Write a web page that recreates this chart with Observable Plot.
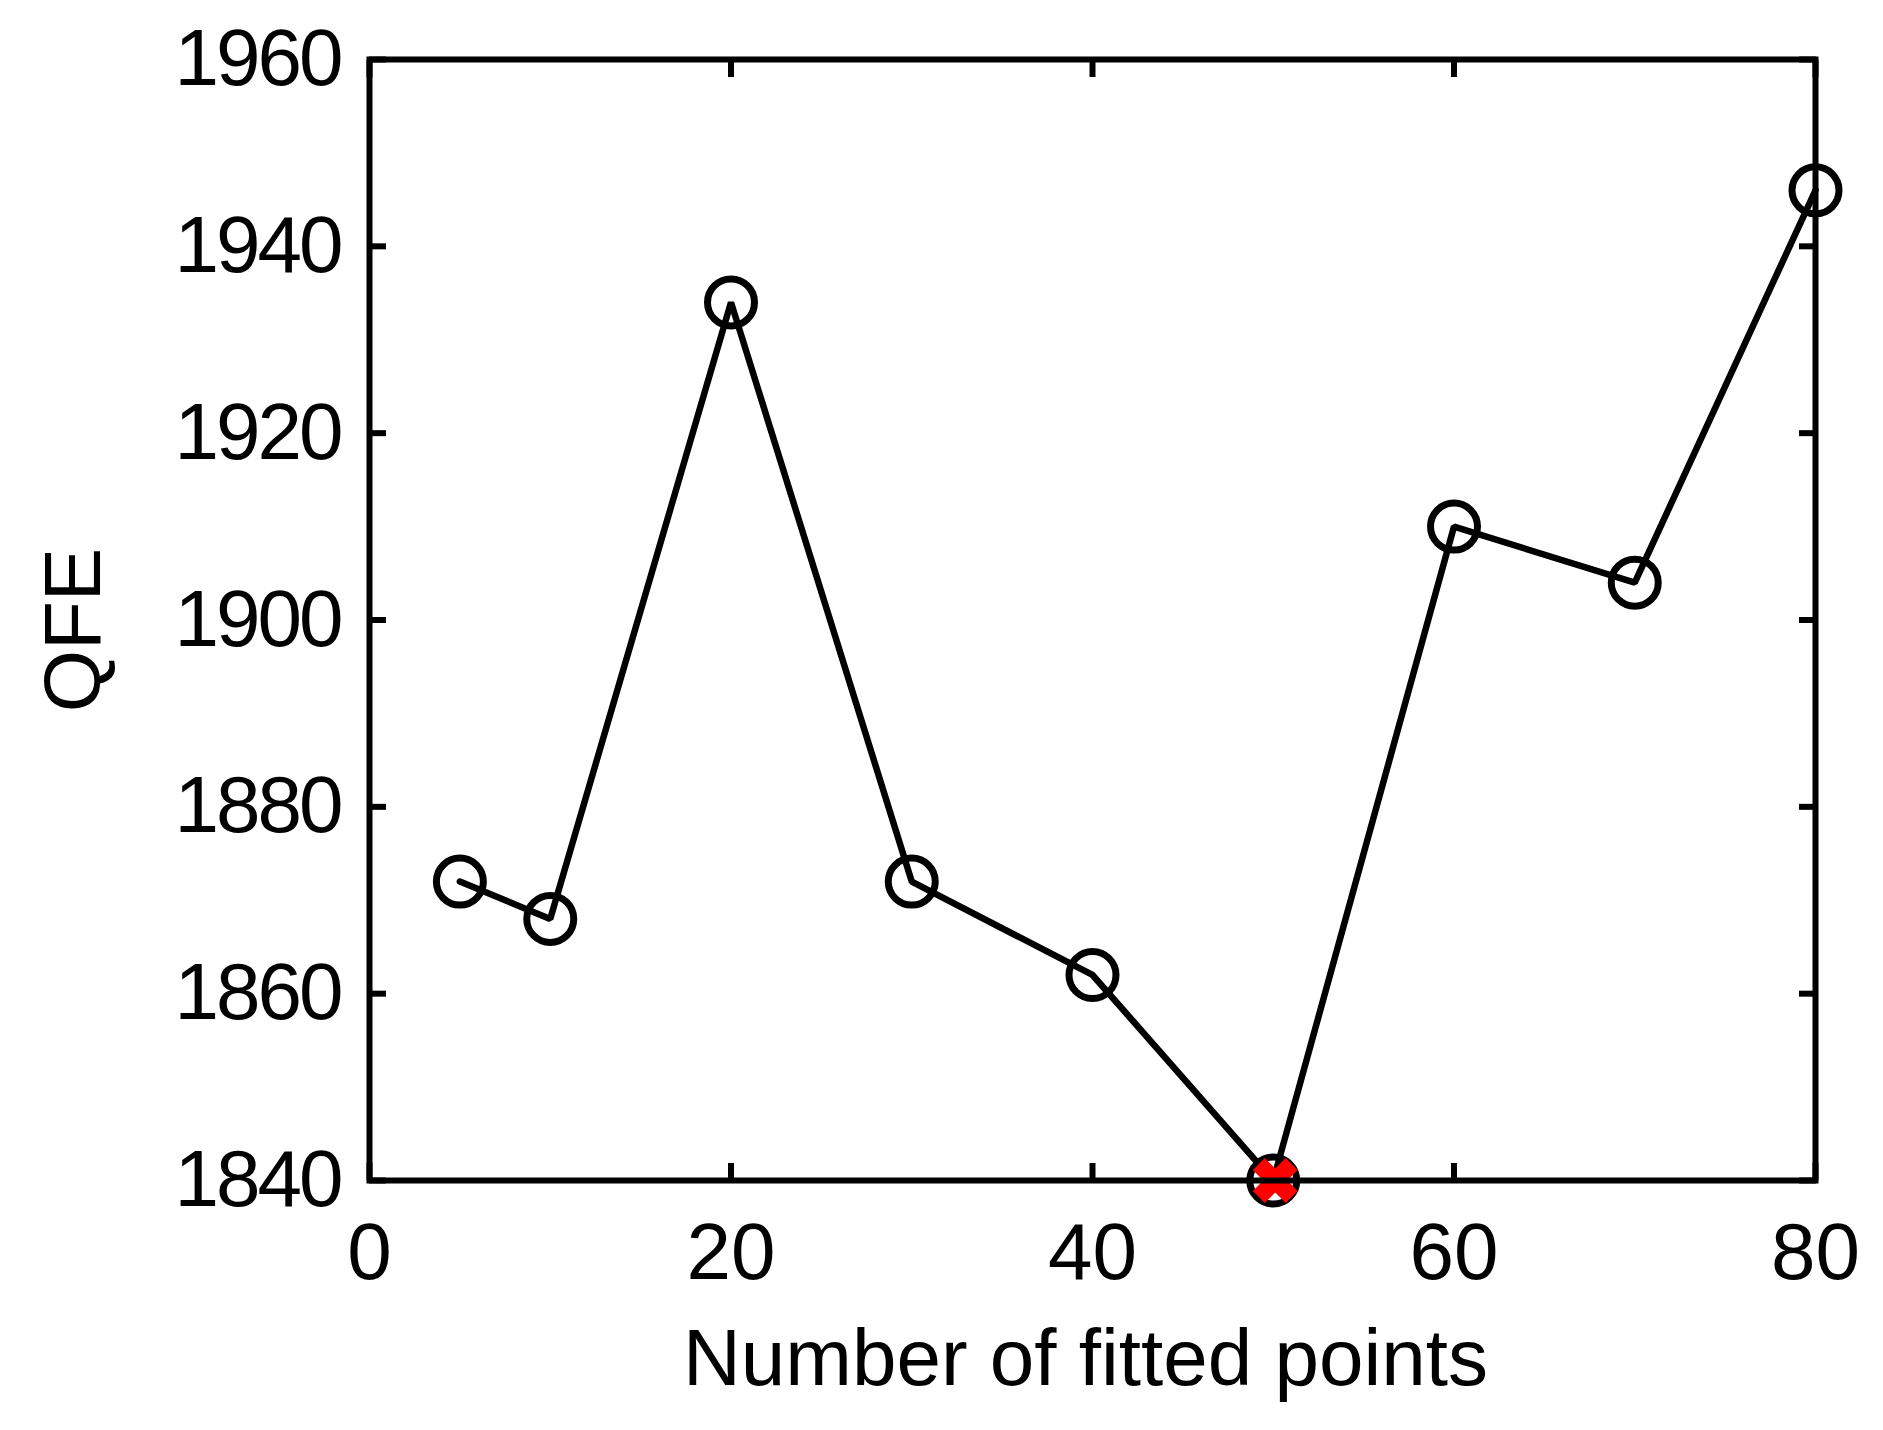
<!DOCTYPE html>
<html>
<head>
<meta charset="utf-8">
<script src="https://cdn.jsdelivr.net/npm/d3@7"></script>
<script src="https://cdn.jsdelivr.net/npm/@observablehq/plot@0.6"></script>
<style>
  html, body { margin: 0; padding: 0; background: #fff; }
  #chart { width: 1883px; height: 1430px; }
</style>
</head>
<body>
<div id="chart"></div>
<script>
const fittedPoints = [5, 10, 20, 30, 40, 50, 60, 70, 80];
const qfe = [1872, 1868, 1934, 1872, 1862, 1840, 1910, 1904, 1946];
const bestIndex = 5;
const xTicks = [0, 20, 40, 60, 80];
const yTicks = [1840, 1860, 1880, 1900, 1920, 1940, 1960];
const xLabel = "Number of fitted points";
const yLabel = "QFE";

const data = fittedPoints.map((x, i) => ({x, y: qfe[i]}));
const best = [data[bestIndex]];

const font = "Liberation Sans, Arial, Helvetica, sans-serif";
const fs = 80;

const chart = Plot.plot({
  width: 1883,
  height: 1430,
  marginLeft: 369,
  marginRight: 68,
  marginTop: 59,
  marginBottom: 250,
  style: {fontFamily: font, background: "#fff", color: "#000"},
  x: {domain: [0, 80]},
  y: {domain: [1840, 1960]},
  marks: [
    Plot.line(data, {x: "x", y: "y", stroke: "#000", strokeWidth: 6.5, strokeLinecap: "round", strokeLinejoin: "miter"}),
    Plot.dot(data, {x: "x", y: "y", r: 23.5, stroke: "#000", strokeWidth: 7, fill: "none"}),
    Plot.dot(best, {x: "x", y: "y", r: 15, symbol: "times", stroke: "#ff0000", strokeWidth: 17, fill: "none", dx: 2}),
    // inward ticks on all four sides
    Plot.axisX(xTicks, {anchor: "bottom", tickSize: -17, strokeWidth: 6, text: null, label: null}),
    Plot.axisX(xTicks, {anchor: "top", tickSize: -17, strokeWidth: 6, text: null, label: null}),
    Plot.axisY(yTicks, {anchor: "left", tickSize: -17, strokeWidth: 6, text: null, label: null}),
    Plot.axisY(yTicks, {anchor: "right", tickSize: -17, strokeWidth: 6, text: null, label: null}),
    // tick labels
    Plot.axisX(xTicks, {anchor: "bottom", tickSize: 0, tickPadding: 42, fontSize: fs, fill: "#000", label: null}),
    Plot.axisY(yTicks, {anchor: "left", tickSize: 0, tickPadding: 29, fontSize: fs, fill: "#000", label: null, tickFormat: d => String(d)}),
    Plot.frame({stroke: "#000", strokeWidth: 6}),
    // axis titles
    Plot.text([xLabel], {frameAnchor: "bottom", lineAnchor: "top", textAnchor: "middle", dy: 148, dx: -7, fontSize: fs, fill: "#000"}),
    Plot.text([yLabel], {frameAnchor: "left", lineAnchor: "top", textAnchor: "middle", rotate: -90, dx: -326, dy: 10, fontSize: fs, fill: "#000"})
  ]
});
chart.querySelectorAll('[aria-label="y-axis tick label"] text').forEach(t => t.setAttribute("letter-spacing", "-3"));
document.getElementById("chart").appendChild(chart);
</script>
</body>
</html>
